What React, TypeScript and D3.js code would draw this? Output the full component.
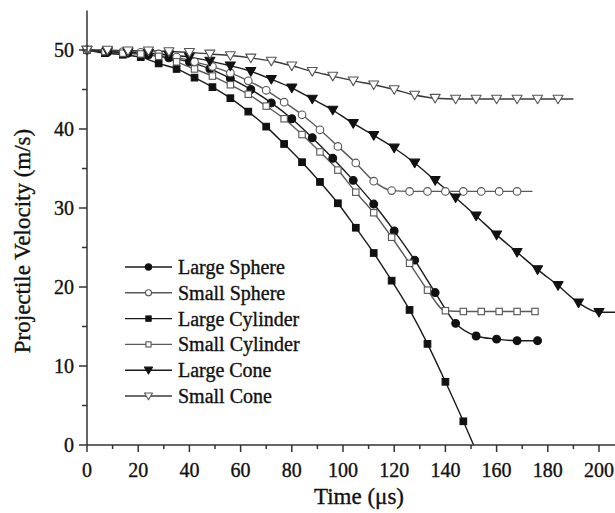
// @ts-nocheck
import React from "react";
import * as d3 from "d3";

// time axis ticks (µs) and velocity ticks (m/s)
const xMajorTicks = [0, 20, 40, 60, 80, 100, 120, 140, 160, 180, 200];
const xMinorTicks = [10, 30, 50, 70, 90, 110, 130, 150, 170, 190];
const yMajorTicks = [0, 10, 20, 30, 40, 50];
const yMinorTicks = [5, 15, 25, 35, 45];

const seriesNames = ["Large Sphere", "Small Sphere", "Large Cylinder", "Small Cylinder", "Large Cone", "Small Cone"];

const largeSphereT = [0, 8, 16, 24, 32, 40, 48, 56, 64, 72, 80, 88, 96, 104, 112, 120, 128, 136, 144, 152, 160, 168, 176];
const largeSphereV = [50, 49.7, 49.6, 49.4, 49.0, 48.5, 47.6, 46.4, 45.0, 43.3, 41.3, 38.9, 36.3, 33.5, 30.5, 27.1, 23.4, 19.3, 15.4, 13.8, 13.4, 13.2, 13.2];

const smallSphereT = [0, 7, 14, 21, 28, 35, 42, 49, 56, 63, 70, 77, 84, 91, 98, 105, 112, 119, 126, 133, 140, 147, 154, 161, 168];
const smallSphereV = [50, 49.9, 49.8, 49.7, 49.5, 49.1, 48.5, 47.9, 47.1, 46.1, 44.9, 43.4, 41.8, 39.9, 37.8, 35.7, 33.4, 32.2, 32.1, 32.1, 32.1, 32.1, 32.1, 32.1, 32.1];
const smallSphereTail = [174, 32.1];

const largeCylinderT = [0, 7, 14, 21, 28, 35, 42, 49, 56, 63, 70, 77, 84, 91, 98, 105, 112, 119, 126, 133, 140, 147];
const largeCylinderV = [50, 49.6, 49.4, 49.1, 48.3, 47.6, 46.5, 45.3, 43.9, 42.2, 40.3, 38.1, 35.8, 33.3, 30.6, 27.5, 24.3, 20.8, 17.1, 12.8, 8.0, 3.0];
const largeCylinderTail = [151, 0];

const smallCylinderT = [0, 7, 14, 21, 28, 35, 42, 49, 56, 63, 70, 77, 84, 91, 98, 105, 112, 119, 126, 133, 140, 147, 154, 161, 168, 175];
const smallCylinderV = [50, 49.8, 49.6, 49.5, 49.2, 48.5, 47.6, 46.7, 45.6, 44.4, 42.9, 41.3, 39.3, 37.1, 34.8, 32.0, 29.4, 26.3, 23.0, 19.6, 17.0, 16.9, 16.9, 16.9, 16.9, 16.9];

const largeConeT = [0, 8, 16, 24, 32, 40, 48, 56, 64, 72, 80, 88, 96, 104, 112, 120, 128, 136, 144, 152, 160, 168, 176, 184, 192, 200];
const largeConeV = [50, 49.8, 49.7, 49.6, 49.4, 49.1, 48.6, 48.0, 47.3, 46.3, 45.2, 43.8, 42.4, 40.7, 39.2, 37.6, 35.7, 33.5, 31.3, 29.0, 26.6, 24.4, 22.2, 20.2, 18.0, 16.8];
const largeConeTail = [207, 16.8];

const smallConeT = [0, 8, 16, 24, 32, 40, 48, 56, 64, 72, 80, 88, 96, 104, 112, 120, 128, 136, 144, 152, 160, 168, 176, 184];
const smallConeV = [50, 50, 49.9, 49.9, 49.8, 49.7, 49.5, 49.3, 49.0, 48.6, 48.0, 47.3, 46.7, 46.1, 45.6, 45.0, 44.3, 43.9, 43.8, 43.8, 43.8, 43.8, 43.8, 43.8];
const smallConeTail = [190, 43.8];

const series = [
  { name: seriesNames[0], t: largeSphereT, v: largeSphereV, tail: null, shape: "circle", filled: true, line: "#1a1a1a" },
  { name: seriesNames[1], t: smallSphereT, v: smallSphereV, tail: smallSphereTail, shape: "circle", filled: false, line: "#5a5a5a" },
  { name: seriesNames[2], t: largeCylinderT, v: largeCylinderV, tail: largeCylinderTail, shape: "square", filled: true, line: "#1a1a1a" },
  { name: seriesNames[3], t: smallCylinderT, v: smallCylinderV, tail: null, shape: "square", filled: false, line: "#5a5a5a" },
  { name: seriesNames[4], t: largeConeT, v: largeConeV, tail: largeConeTail, shape: "tri", filled: true, line: "#1a1a1a" },
  { name: seriesNames[5], t: smallConeT, v: smallConeV, tail: smallConeTail, shape: "tri", filled: false, line: "#3a3a3a" },
];

const W = 615;
const H = 513;
const font = "'Liberation Serif', 'Times New Roman', serif";

function Marker({ shape, filled, x, y, s = 1 }) {
  const fill = filled ? "#111" : "#fff";
  const stroke = filled ? "#111" : "#555";
  if (shape === "circle") {
    return <circle cx={x} cy={y} r={(filled ? 3.9 : 3.8) * s} fill={fill} stroke={stroke} strokeWidth={1.1} />;
  }
  if (shape === "square") {
    const a = (filled ? 6.6 : 6.4) * s;
    return <rect x={x - a / 2} y={y - a / 2} width={a} height={a} fill={fill} stroke={stroke} strokeWidth={1.1} />;
  }
  const w = 5 * s;
  const h1 = 3.8 * s;
  const h2 = 4.8 * s;
  return (
    <path
      d={`M${x - w},${y - h1}L${x + w},${y - h1}L${x},${y + h2}Z`}
      fill={fill}
      stroke={stroke}
      strokeWidth={1.1}
      strokeLinejoin="round"
    />
  );
}

export default function App() {
  const x = d3.scaleLinear().domain([0, 200]).range([87, 599]);
  const y = d3.scaleLinear().domain([0, 55]).range([445, 10.5]);

  const line = d3
    .line()
    .x((d) => x(d[0]))
    .y((d) => y(d[1]))
    .curve(d3.curveMonotoneX);

  const legendX0 = 125;
  const legendX1 = 172;
  const legendY = d3.scaleLinear().domain([0, 5]).range([267, 396]);

  return (
    <svg
      width={W}
      height={H}
      style={{ position: "absolute", left: 0, top: 0, background: "#fff" }}
      fontFamily={font}
    >
      <rect width={W} height={H} fill="#fff" />

      {/* series */}
      {series.map((s, i) => {
        const pts = s.t.map((t, j) => [t, s.v[j]]);
        const linePts = s.tail ? [...pts, s.tail] : pts;
        return (
          <g key={i}>
            <path d={line(linePts)} fill="none" stroke={s.line} strokeWidth={1.4} />
          </g>
        );
      })}
      {series.map((s, i) => (
        <g key={"m" + i}>
          {s.t.map((t, j) => (
            <Marker key={j} shape={s.shape} filled={s.filled} x={x(t)} y={y(s.v[j])} />
          ))}
        </g>
      ))}

      {/* axes */}
      <g stroke="#333" strokeWidth={1.5}>
        <line x1={x(0)} x2={x(0)} y1={y(55)} y2={y(0)} />
        <line x1={x(0)} x2={W} y1={y(0)} y2={y(0)} />
        {yMajorTicks.map((v) => (
          <line key={"ym" + v} x1={x(0) - 8} x2={x(0)} y1={y(v)} y2={y(v)} />
        ))}
        {yMinorTicks.map((v) => (
          <line key={"yn" + v} x1={x(0) - 5} x2={x(0)} y1={y(v)} y2={y(v)} />
        ))}
        {xMajorTicks.map((t) => (
          <line key={"xm" + t} x1={x(t)} x2={x(t)} y1={y(0)} y2={y(0) + 7} />
        ))}
        {xMinorTicks.map((t) => (
          <line key={"xn" + t} x1={x(t)} x2={x(t)} y1={y(0)} y2={y(0) + 4} />
        ))}
      </g>

      <g fontSize={20} fill="#111" stroke="#111" strokeWidth={0.35}>
        {yMajorTicks.map((v) => (
          <text key={"yl" + v} x={x(0) - 13} y={y(v)} dy="0.35em" textAnchor="end">
            {v}
          </text>
        ))}
        {xMajorTicks.map((t) => (
          <text key={"xl" + t} x={x(t)} y={477} textAnchor="middle">
            {t}
          </text>
        ))}
      </g>

      <g fill="#111" stroke="#111" strokeWidth={0.35} fontSize={23}>
        <text x={359} y={504} textAnchor="middle">
          Time (μs)
        </text>
        <text transform={`translate(30,${241}) rotate(-90)`} textAnchor="middle">
          Projectile Velocity (m/s)
        </text>
      </g>

      {/* legend */}
      {series.map((s, i) => {
        const ly = legendY(i);
        return (
          <g key={"lg" + i}>
            <line x1={legendX0} x2={legendX1} y1={ly} y2={ly} stroke={s.line} strokeWidth={1.4} />
            <Marker shape={s.shape} filled={s.filled} x={(legendX0 + legendX1) / 2} y={ly} s={0.8} />
            <text x={178} y={ly} dy="0.35em" fontSize={20} fill="#111" stroke="#111" strokeWidth={0.35}>
              {s.name}
            </text>
          </g>
        );
      })}
    </svg>
  );
}
